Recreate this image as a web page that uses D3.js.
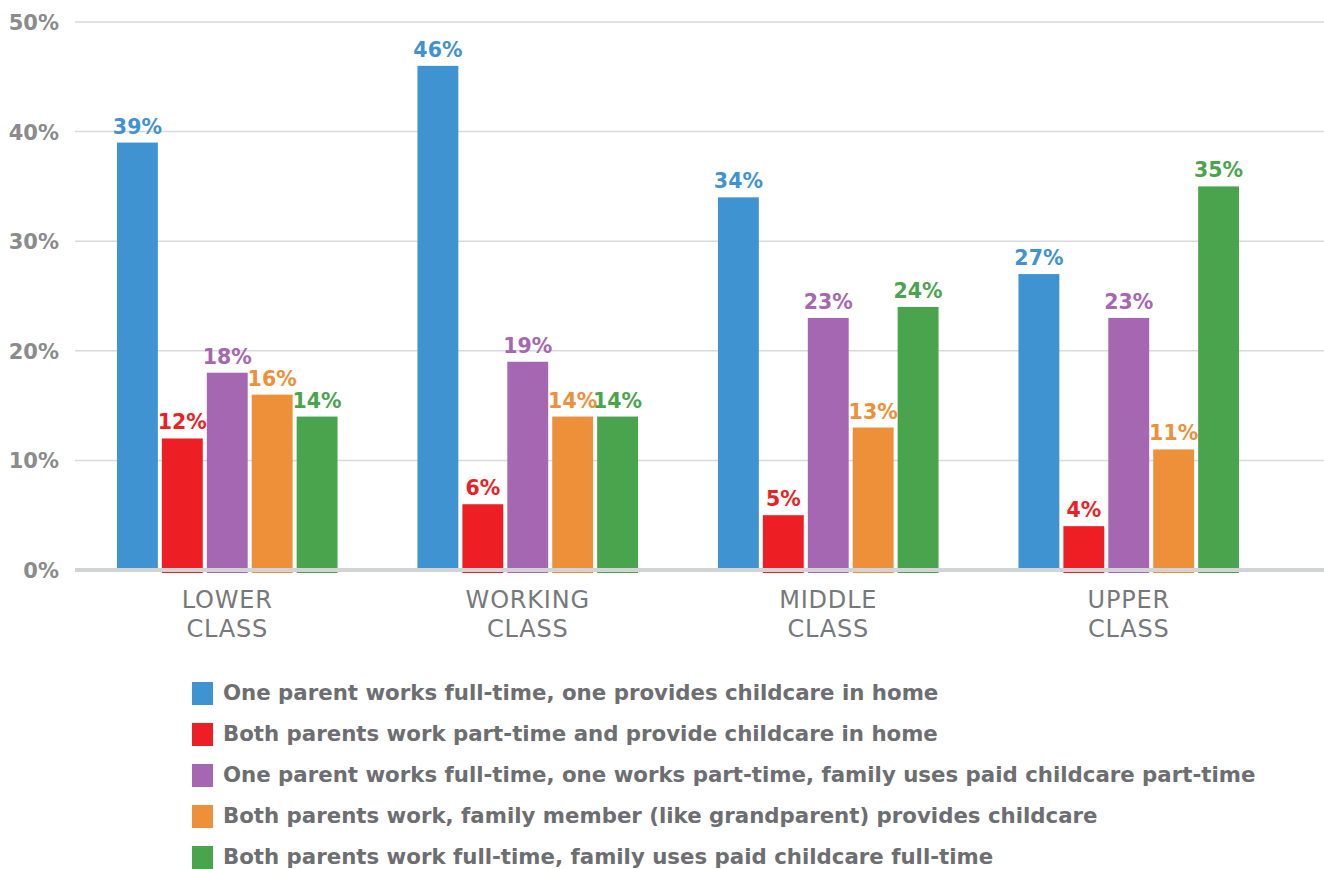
<!DOCTYPE html>
<html>
<head>
<meta charset="utf-8">
<script src="https://cdn.jsdelivr.net/npm/d3@7"></script>
<style>
  html, body { margin: 0; padding: 0; background: #ffffff; }
  svg { display: block; }
</style>
</head>
<body>
<svg id="chart" width="1324" height="869"></svg>
<script>
// Childcare arrangements by social class (percent of families)
const classes = ["LOWER CLASS", "WORKING CLASS", "MIDDLE CLASS", "UPPER CLASS"];
const seriesNames = [
  "One parent works full-time, one provides childcare in home",
  "Both parents work part-time and provide childcare in home",
  "One parent works full-time, one works part-time, family uses paid childcare part-time",
  "Both parents work, family member (like grandparent) provides childcare",
  "Both parents work full-time, family uses paid childcare full-time"
];
const oneFullOneHome   = [39, 46, 34, 27];
const bothPartTimeHome = [12, 6, 5, 4];
const fullPartPaid     = [18, 19, 23, 23];
const familyMember     = [16, 14, 13, 11];
const bothFullPaid     = [14, 14, 24, 35];
const seriesValues = [oneFullOneHome, bothPartTimeHome, fullPartPaid, familyMember, bothFullPaid];
const seriesColors = ["#3f93d0", "#ed1f24", "#a567b1", "#ee8f3a", "#4aa44d"];
const yTicks = [0, 10, 20, 30, 40, 50];

const svg = d3.select("#chart");
const fontBold = "'DejaVu Sans', sans-serif";

const x0 = d3.scaleBand().domain(classes).range([77, 1279]).paddingInner(0.266).paddingOuter(0.133);
const x1 = d3.scaleBand().domain(d3.range(seriesNames.length)).range([0, x0.bandwidth()]).paddingInner(0.09).paddingOuter(0);
const y = d3.scaleLinear().domain([0, 50]).range([570, 22]);

// horizontal gridlines
svg.append("g").selectAll("line")
  .data(yTicks.filter(t => t > 0))
  .join("line")
  .attr("x1", 75).attr("x2", 1324)
  .attr("y1", d => y(d)).attr("y2", d => y(d))
  .attr("stroke", "#d9d9d9").attr("stroke-width", 1.5);

// y tick labels
svg.append("g").selectAll("text")
  .data(yTicks)
  .join("text")
  .attr("x", 59).attr("y", d => y(d) + 8)
  .attr("text-anchor", "end")
  .attr("font-family", fontBold).attr("font-weight", "bold")
  .attr("font-size", 21).attr("fill", "#8a8b8d")
  .text(d => d + "%");

// bars
const groups = svg.append("g").selectAll("g")
  .data(classes)
  .join("g")
  .attr("transform", d => `translate(${x0(d)},0)`);

groups.each(function(cls, ci) {
  const g = d3.select(this);
  seriesValues.forEach((vals, si) => {
    const v = vals[ci];
    g.append("rect")
      .attr("x", x1(si)).attr("width", x1.bandwidth())
      .attr("y", y(v))
      .attr("height", y(0) - y(v) + (si === 0 ? -1 : 3))
      .attr("fill", seriesColors[si]);
    g.append("text")
      .attr("x", x1(si) + x1.bandwidth() / 2)
      .attr("y", y(v) - 9)
      .attr("text-anchor", "middle")
      .attr("font-family", fontBold).attr("font-weight", "bold")
      .attr("font-size", 20.5).attr("fill", seriesColors[si])
      .text(v + "%");
  });
});

// baseline
svg.append("line")
  .attr("x1", 75).attr("x2", 1324)
  .attr("y1", y(0)).attr("y2", y(0))
  .attr("stroke", "#d1d3d4").attr("stroke-width", 4);

// category labels (two lines)
svg.append("g").selectAll("text")
  .data(classes)
  .join("text")
  .attr("text-anchor", "middle")
  .attr("font-family", "'DejaVu Sans', sans-serif")
  .attr("font-weight", "normal")
  .attr("font-size", 24).attr("letter-spacing", 0.8).attr("fill", "#77787b")
  .each(function(d) {
    const words = d.split(" ");
    const t = d3.select(this);
    words.forEach((w, i) => {
      t.append("tspan")
        .attr("x", x0(d) + x0.bandwidth() / 2)
        .attr("y", 608 + i * 29)
        .text(w);
    });
  });

// legend
const legend = svg.append("g").selectAll("g")
  .data(seriesNames)
  .join("g")
  .attr("transform", (d, i) => `translate(192,${682 + i * 41})`);

legend.append("rect")
  .attr("width", 21).attr("height", 23)
  .attr("fill", (d, i) => seriesColors[i]);

legend.append("text")
  .attr("x", 31).attr("y", 18)
  .attr("font-family", fontBold).attr("font-weight", "bold")
  .attr("font-size", 21.3).attr("fill", "#6d6e71")
  .text(d => d);
</script>
</body>
</html>
